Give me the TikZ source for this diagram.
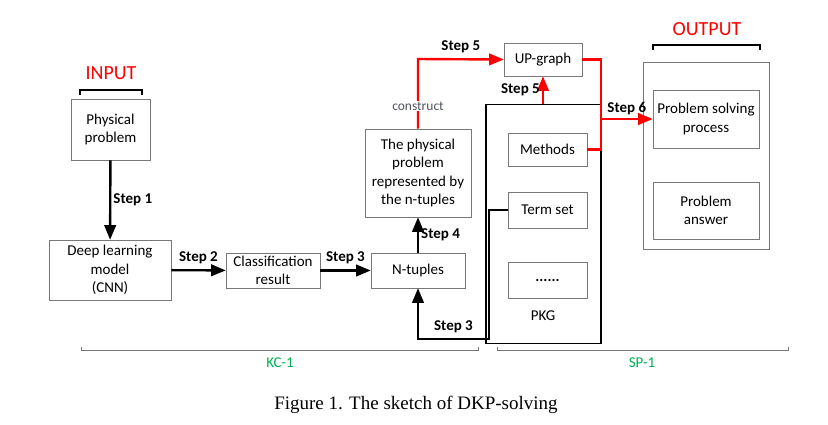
\documentclass[tikz,border=0pt]{standalone}
\usepackage{fontspec}
\setmainfont{Carlito}
\newfontfamily\capfont{Liberation Serif}
\usetikzlibrary{arrows}
\definecolor{kcgreen}{RGB}{0,176,80}
\definecolor{boxgray}{RGB}{120,120,120}
\definecolor{cstgray}{RGB}{80,84,96}

\tikzset{
  box/.style={draw=boxgray, line width=0.9pt, align=center, inner sep=0pt},
  steplbl/.style={font=\fontsize{15}{18}\selectfont\bfseries, text=black, inner sep=2pt},
  flow/.style={->, >=triangle 45, line width=2.4pt},
  redflow/.style={flow, red},
  brace/.style={line width=1.4pt},
  span/.style={draw=boxgray, line width=0.9pt}
}

\begin{document}
\begin{tikzpicture}[x=1pt, y=-1pt, font=\fontsize{15}{18.3}\selectfont]
          \useasboundingbox (0,0) rectangle (828,424);

          % input side
          \node[text=red, font=\fontsize{20}{24}\selectfont] (input) at (111,73) {INPUT};
          \draw[brace] (80,95) -- (80,90) -- (142,90) -- (142,95);
          \node[box, minimum width=79pt, minimum height=61pt] (phys) at (110.5,129.5) {Physical\\problem};
          \node[box, minimum width=122pt, minimum height=60pt] (dlm) at (110,270) {Deep learning\\model\\(CNN)};
          \node[box, minimum width=94pt, minimum height=35pt] (cls) at (273,270.5) {Classification\\result};
          \node[box, minimum width=94pt, minimum height=35pt] (ntup) at (418,270.5) {N-tuples};
          \node[box, minimum width=106pt, minimum height=88pt] (repr) at (418,173) {The physical\\problem\\represented by\\the n-tuples};

          % PKG and UP-graph
          \node[box, minimum width=78pt, minimum height=33pt] (upg) at (543,59.5) {UP-graph};
          \node[draw, line width=1.3pt, minimum width=115pt, minimum height=239pt, inner sep=0pt] (pkg) at (543.5,224) {};
          \node[box, minimum width=79pt, minimum height=33pt] (meth) at (547.5,149.5) {Methods};
          \node[box, minimum width=79pt, minimum height=36pt] (term) at (547.5,210) {Term set};
          \node[box, minimum width=79pt, minimum height=36pt] (dots) at (547.5,280) {\textbf{......}};
          \node (pkgname) at (543,316) {PKG};

          % output side
          \node[text=red, font=\fontsize{20}{24}\selectfont] (output) at (707,29) {OUTPUT};
          \draw[brace] (653,50) -- (653,45) -- (760,45) -- (760,50);
          \node[box, minimum width=126pt, minimum height=187pt] (outbox) at (706,155.5) {};
          \node[box, minimum width=106pt, minimum height=58pt] (psp) at (706,119) {Problem solving\\process};
          \node[box, minimum width=106pt, minimum height=57pt] (pans) at (706,210.5) {Problem\\answer};

          % steps
          \draw[flow] (phys) -- (dlm) node[steplbl, midway, right] {Step 1};
          \draw[flow] (dlm) -- (cls) node[steplbl, midway, above=3pt] {Step 2};
          \draw[flow] (cls) -- (ntup) node[steplbl, midway, above=3pt] {Step 3};
          \draw[flow] (ntup) -- (repr) node[steplbl, midway, right] {Step 4};
          \draw[flow] (term.west) -- (489,210) -- (489,339) -- (418,339) node[steplbl, midway, above=3pt] {Step 3} -- (ntup.south);

          \draw[redflow] (repr.north) -- (418,59) -- (upg.west) node[steplbl, midway, above=3pt] {Step 5};
          \node[fill=white, text=cstgray, font=\fontsize{13.5}{16}\selectfont, inner sep=1pt] (cst) at (418,106) {construct};
          \draw[redflow] (pkg.north -| upg.south) -- (upg.south) node[steplbl, midway, left] {Step 5};
          \draw[red, line width=2.4pt] (upg.east) -- (601,59.5) -- (601,149.5) -- (meth.east);
          \coordinate (s6) at (601,119);
          \draw[redflow] (s6) -- (psp.west) node[steplbl, midway, above=1pt] {Step 6};

          % spans
          \draw[span] (81,347) -- (81,350) -- (478,350) -- (478,347);
          \draw[span] (497,347) -- (497,350) -- (788,350) -- (788,347);
          \node[text=kcgreen] (kc) at (280,363) {KC-1};
          \node[text=kcgreen] (sp) at (642,363) {SP-1};

          \node[font=\capfont\fontsize{19}{22}\selectfont] (cap) at (416,405) {Figure 1. The sketch of DKP-solving};
\end{tikzpicture}
\end{document}
